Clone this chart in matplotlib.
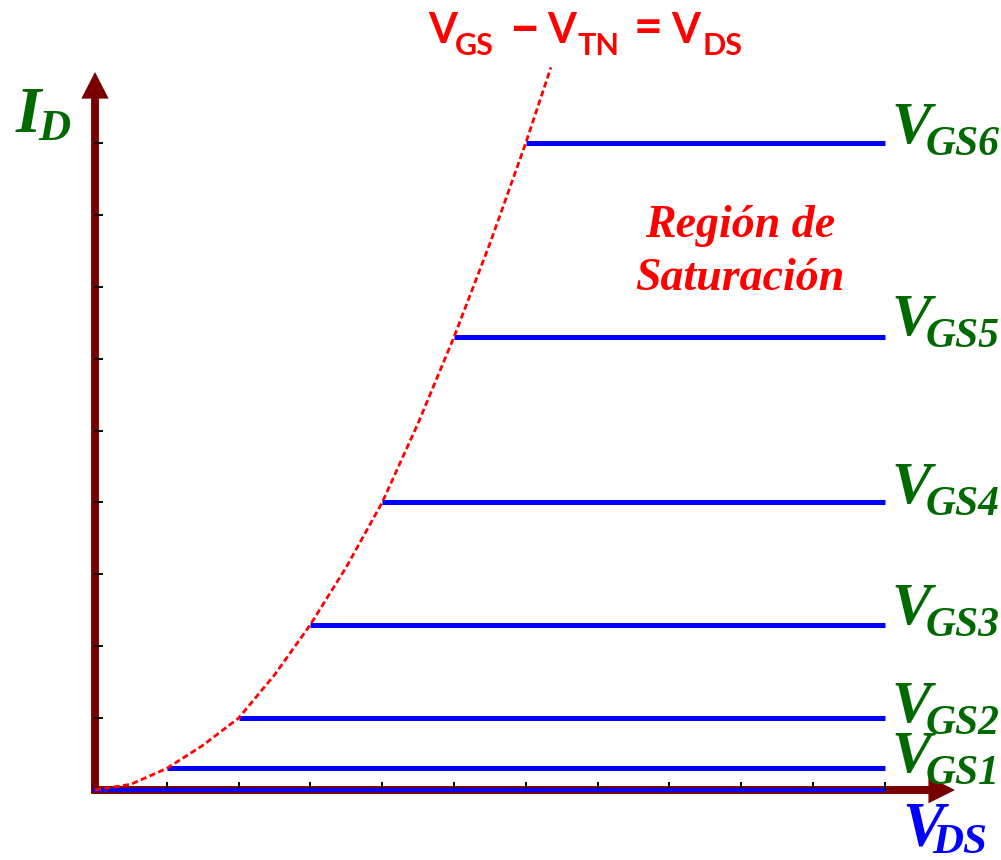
import matplotlib
matplotlib.use('Agg')
import matplotlib.pyplot as plt
from matplotlib.patches import FancyArrow

# axis ticks (same unit on both axes)
vds_ticks = [1, 2, 3, 4, 5, 6, 7, 8, 9, 10, 11]
id_ticks = [1, 2, 3, 4, 5, 6, 7, 8, 9]

# saturation current levels, their V_DS(sat) and where they end
vgs_names = ['GS1', 'GS2', 'GS3', 'GS4', 'GS5', 'GS6']
vgs_id = [0.3, 1.0, 2.3, 4.0, 6.3, 9.0]
vgs_vds_sat = [1, 2, 3, 4, 5, 6]
vds_end = 11

# boundary curve V_GS - V_TN = V_DS
curve_vds = [0, 0.5, 1, 1.5, 2, 2.5, 3, 3.5, 4, 4.5, 5, 5.5, 6, 6.35]
curve_id = [0, 0.08, 0.3, 0.62, 1.0, 1.6, 2.3, 3.1, 4.0, 5.1, 6.3, 7.6, 9.0, 10.05]

W, H = 1001, 860
X0, Y0, SX, SY = 95, 790, 71.8, 71.9   # origin and unit in pixels
PX = 1 / SX

maroon = '#7a0000'
green = '#006a00'
blue = '#0000ff'
red = '#ff0000'

fig = plt.figure(figsize=(W / 100, H / 100), dpi=100)
ax = fig.add_axes([0, 0, 1, 1])
ax.set_xlim(-X0 / SX, (W - X0) / SX)
ax.set_ylim(-(H - Y0) / SY, Y0 / SY)
ax.axis('off')


def ux(px):
    return (px - X0) / SX


def uy(py):
    return (Y0 - py) / SY


# axes with arrow heads
ax.add_patch(FancyArrow(0, -0.05, 0, uy(72) + 0.05, width=0.11, head_width=0.38,
                        head_length=0.37, length_includes_head=True,
                        color=maroon, lw=0, zorder=1))
ax.add_patch(FancyArrow(-0.05, 0, ux(955) + 0.05, 0, width=0.11, head_width=0.37,
                        head_length=0.37, length_includes_head=True,
                        color=maroon, lw=0, zorder=1))

for t in vds_ticks:
    ax.plot([t, t], [0, 0.1], color='black', lw=1.4, zorder=2)
for t in id_ticks:
    ax.plot([0, 0.1], [t, t], color='black', lw=1.4, zorder=2)

ax.plot([-0.03, vds_end], [0, 0], color=blue, lw=2.8, solid_capstyle='butt', zorder=3)
for x0, lvl in zip(vgs_vds_sat, vgs_id):
    ax.plot([x0, vds_end], [lvl, lvl], color=blue, lw=3.6,
            solid_capstyle='butt', zorder=3)

ax.plot(curve_vds, curve_id, color=red, lw=2.0, linestyle=(0, (2.2, 1.2)),
        dash_capstyle='butt', zorder=4)

renderer = fig.canvas.get_renderer()
inv = ax.transData.inverted()


def chain(x, y, pieces, **kw):
    # pieces: text, size, drop below baseline (px), gap before (px)
    for s, size, drop, gap in pieces:
        x += gap * PX
        t = ax.text(x, y - drop / SY, s, fontsize=size, ha='left',
                    va='baseline', zorder=5, **kw)
        bb = t.get_window_extent(renderer)
        x = inv.transform((bb.x1, bb.y0))[0]


serif = dict(family='Liberation Serif', weight='bold', style='italic')

# V_GS labels
label_base_px = [772, 722, 624, 503, 335, 143]
for name, py in zip(vgs_names, label_base_px):
    chain(ux(892), uy(py), [('V', 43, 0, 0), (name, 30, 12, -6)],
          color=green, **serif)

chain(ux(16), uy(132), [('I', 47, 0, 0), ('D', 32, 8, -3)], color=green, **serif)
chain(ux(902), uy(845), [('V', 45, 0, 0), ('DS', 31, 8, -11)], color=blue, **serif)

ax.text(ux(740), uy(237), 'Región de', fontsize=33, ha='center', va='baseline',
        color=red, **serif)
ax.text(ux(740), uy(290), 'Saturación', fontsize=33, ha='center', va='baseline',
        color=red, **serif)

# title pieces placed at the reference positions
sans = dict(family='Lato', weight='bold', color=red, ha='left', va='baseline')
title_parts = [('V', 30, 428, 43), ('GS', 22, 455, 55), ('–', 40, 508, 45),
               ('V', 30, 547, 43), ('TN', 22, 578, 55), ('=', 36, 634, 43),
               ('V', 30, 671, 43), ('DS', 22, 703, 55)]
for s, size, px, py in title_parts:
    ax.text(ux(px), uy(py), s, fontsize=size, **sans)

fig.savefig('out.png', dpi=100)
